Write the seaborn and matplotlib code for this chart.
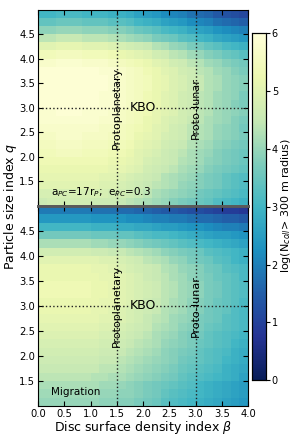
import numpy as np
import pandas as pd
import matplotlib
matplotlib.use("Agg")
import matplotlib.pyplot as plt
import seaborn as sns

# cell centres of the simulation grid (rows listed from the top, q high -> low)
beta_centres = [0.08, 0.25, 0.42, 0.58, 0.75, 0.92, 1.08, 1.25, 1.42, 1.58, 1.75, 1.92,
                2.08, 2.25, 2.42, 2.58, 2.75, 2.92, 3.08, 3.25, 3.42, 3.58, 3.75, 3.92]
q_centres = [4.92, 4.75, 4.58, 4.42, 4.25, 4.08, 3.92, 3.75, 3.58, 3.42, 3.25, 3.08,
             2.92, 2.75, 2.58, 2.42, 2.25, 2.08, 1.92, 1.75, 1.58, 1.42, 1.25, 1.08]

# log(N_coll > 300 m), fixed orbit a_PC=17 r_P, e_PC=0.3
logn_fixed = [
    [3.0, 3.0, 3.1, 3.1, 3.1, 3.0, 3.0, 3.0, 2.9, 2.9, 2.8, 2.6, 2.5, 2.4, 2.2, 2.1, 2.0, 1.8, 1.7, 1.6, 1.4, 1.3, 1.2, 1.1],
    [3.4, 3.4, 3.5, 3.5, 3.5, 3.4, 3.4, 3.4, 3.3, 3.3, 3.2, 3.0, 2.9, 2.8, 2.6, 2.5, 2.4, 2.2, 2.1, 2.0, 1.8, 1.7, 1.6, 1.5],
    [3.9, 3.9, 4.0, 4.0, 4.0, 3.9, 3.9, 3.9, 3.8, 3.8, 3.7, 3.5, 3.4, 3.3, 3.1, 3.0, 2.9, 2.7, 2.6, 2.5, 2.3, 2.2, 2.1, 2.0],
    [4.4, 4.4, 4.5, 4.5, 4.5, 4.4, 4.4, 4.4, 4.3, 4.2, 4.1, 4.0, 3.9, 3.7, 3.6, 3.5, 3.3, 3.2, 3.0, 2.9, 2.7, 2.6, 2.5, 2.4],
    [5.0, 5.0, 5.1, 5.1, 5.1, 5.0, 5.0, 5.0, 4.9, 4.8, 4.7, 4.6, 4.5, 4.3, 4.2, 4.0, 3.9, 3.7, 3.6, 3.4, 3.3, 3.1, 3.0, 2.9],
    [5.4, 5.4, 5.5, 5.5, 5.5, 5.4, 5.4, 5.4, 5.3, 5.2, 5.1, 5.0, 4.9, 4.7, 4.6, 4.4, 4.3, 4.1, 4.0, 3.8, 3.7, 3.5, 3.4, 3.3],
    [5.7, 5.7, 5.8, 5.8, 5.8, 5.7, 5.7, 5.7, 5.6, 5.5, 5.4, 5.3, 5.2, 5.0, 4.9, 4.7, 4.6, 4.4, 4.3, 4.1, 4.0, 3.8, 3.7, 3.6],
    [5.9, 5.9, 5.9, 5.9, 5.9, 5.9, 5.9, 5.8, 5.8, 5.7, 5.6, 5.5, 5.3, 5.2, 5.0, 4.9, 4.7, 4.6, 4.4, 4.3, 4.1, 4.0, 3.8, 3.7],
    [5.9, 5.9, 5.9, 5.9, 5.9, 5.9, 5.9, 5.9, 5.8, 5.7, 5.6, 5.5, 5.4, 5.2, 5.1, 4.9, 4.8, 4.6, 4.5, 4.3, 4.2, 4.0, 3.9, 3.8],
    [5.9, 5.9, 5.9, 5.9, 5.9, 5.9, 5.9, 5.9, 5.8, 5.7, 5.6, 5.5, 5.4, 5.2, 5.1, 4.9, 4.8, 4.6, 4.5, 4.3, 4.2, 4.0, 3.9, 3.8],
    [5.9, 5.9, 5.9, 5.9, 5.9, 5.9, 5.9, 5.8, 5.8, 5.7, 5.6, 5.5, 5.3, 5.2, 5.0, 4.9, 4.7, 4.6, 4.4, 4.3, 4.1, 4.0, 3.9, 3.7],
    [5.9, 5.9, 5.9, 5.9, 5.9, 5.9, 5.9, 5.8, 5.8, 5.7, 5.6, 5.5, 5.3, 5.2, 5.0, 4.9, 4.7, 4.6, 4.4, 4.3, 4.1, 4.0, 3.8, 3.7],
    [5.8, 5.8, 5.9, 5.9, 5.9, 5.8, 5.8, 5.8, 5.7, 5.6, 5.5, 5.4, 5.3, 5.1, 5.0, 4.9, 4.7, 4.6, 4.4, 4.3, 4.1, 4.0, 3.9, 3.8],
    [5.8, 5.8, 5.8, 5.8, 5.8, 5.8, 5.8, 5.7, 5.7, 5.6, 5.5, 5.4, 5.2, 5.1, 4.9, 4.8, 4.7, 4.5, 4.4, 4.2, 4.1, 4.0, 3.8, 3.7],
    [5.7, 5.7, 5.7, 5.7, 5.7, 5.7, 5.7, 5.6, 5.6, 5.5, 5.4, 5.3, 5.2, 5.0, 4.9, 4.7, 4.6, 4.4, 4.3, 4.2, 4.0, 3.9, 3.8, 3.6],
    [5.6, 5.6, 5.7, 5.7, 5.7, 5.6, 5.6, 5.6, 5.5, 5.5, 5.4, 5.2, 5.1, 5.0, 4.8, 4.7, 4.6, 4.4, 4.3, 4.2, 4.0, 3.9, 3.8, 3.7],
    [5.5, 5.5, 5.6, 5.6, 5.6, 5.5, 5.5, 5.5, 5.4, 5.4, 5.3, 5.1, 5.0, 4.9, 4.7, 4.6, 4.5, 4.3, 4.2, 4.1, 3.9, 3.8, 3.7, 3.6],
    [5.4, 5.4, 5.5, 5.5, 5.5, 5.4, 5.4, 5.4, 5.3, 5.3, 5.2, 5.0, 4.9, 4.8, 4.6, 4.5, 4.4, 4.2, 4.1, 4.0, 3.8, 3.7, 3.6, 3.5],
    [5.3, 5.3, 5.3, 5.3, 5.3, 5.3, 5.3, 5.3, 5.2, 5.2, 5.1, 5.0, 4.8, 4.7, 4.6, 4.5, 4.3, 4.2, 4.1, 3.9, 3.8, 3.7, 3.6, 3.5],
    [5.2, 5.2, 5.2, 5.2, 5.2, 5.2, 5.2, 5.2, 5.1, 5.1, 5.0, 4.9, 4.7, 4.6, 4.5, 4.4, 4.2, 4.1, 4.0, 3.8, 3.7, 3.6, 3.5, 3.4],
    [5.1, 5.1, 5.1, 5.1, 5.1, 5.1, 5.1, 5.0, 5.0, 4.9, 4.8, 4.7, 4.6, 4.5, 4.3, 4.2, 4.1, 4.0, 3.8, 3.7, 3.6, 3.4, 3.3, 3.2],
    [5.0, 5.0, 5.0, 5.0, 5.0, 5.0, 5.0, 4.9, 4.9, 4.8, 4.7, 4.6, 4.5, 4.4, 4.3, 4.2, 4.0, 3.9, 3.8, 3.7, 3.6, 3.4, 3.3, 3.2],
    [4.8, 4.8, 4.8, 4.8, 4.8, 4.8, 4.8, 4.8, 4.7, 4.7, 4.6, 4.5, 4.4, 4.2, 4.1, 4.0, 3.9, 3.8, 3.6, 3.5, 3.4, 3.3, 3.2, 3.1],
    [4.6, 4.7, 4.7, 4.7, 4.7, 4.7, 4.6, 4.6, 4.6, 4.5, 4.4, 4.3, 4.2, 4.1, 4.0, 3.8, 3.7, 3.6, 3.5, 3.4, 3.2, 3.1, 3.0, 2.9],
]

# log(N_coll > 300 m), migrating proto-moon
logn_migration = [
    [1.9, 1.9, 1.9, 1.9, 1.9, 1.9, 1.8, 1.8, 1.8, 1.7, 1.7, 1.6, 1.6, 1.5, 1.4, 1.4, 1.3, 1.2, 1.2, 1.1, 1.0, 0.9, 0.9, 0.8],
    [2.4, 2.4, 2.4, 2.4, 2.4, 2.4, 2.3, 2.3, 2.3, 2.3, 2.2, 2.2, 2.1, 2.0, 2.0, 1.9, 1.9, 1.8, 1.7, 1.7, 1.6, 1.5, 1.5, 1.4],
    [3.0, 3.0, 3.0, 3.0, 3.0, 3.0, 2.9, 2.9, 2.9, 2.8, 2.8, 2.7, 2.7, 2.6, 2.5, 2.5, 2.4, 2.3, 2.3, 2.2, 2.1, 2.0, 2.0, 1.9],
    [3.6, 3.6, 3.6, 3.6, 3.6, 3.6, 3.5, 3.5, 3.5, 3.4, 3.4, 3.3, 3.2, 3.1, 3.1, 3.0, 2.9, 2.8, 2.7, 2.6, 2.5, 2.5, 2.4, 2.3],
    [4.2, 4.2, 4.2, 4.2, 4.2, 4.2, 4.1, 4.1, 4.0, 4.0, 3.9, 3.8, 3.7, 3.6, 3.5, 3.4, 3.3, 3.2, 3.1, 3.0, 2.9, 2.8, 2.7, 2.6],
    [4.7, 4.7, 4.7, 4.7, 4.7, 4.7, 4.6, 4.6, 4.5, 4.5, 4.4, 4.3, 4.2, 4.1, 3.9, 3.8, 3.7, 3.6, 3.5, 3.3, 3.2, 3.1, 3.0, 2.9],
    [5.0, 5.0, 5.0, 5.0, 5.0, 5.0, 5.0, 4.9, 4.9, 4.8, 4.7, 4.6, 4.4, 4.3, 4.2, 4.0, 3.9, 3.7, 3.6, 3.5, 3.3, 3.2, 3.0, 2.9],
    [5.2, 5.2, 5.2, 5.2, 5.2, 5.2, 5.1, 5.1, 5.0, 4.9, 4.8, 4.7, 4.6, 4.5, 4.3, 4.2, 4.0, 3.9, 3.8, 3.6, 3.5, 3.3, 3.2, 3.1],
    [5.2, 5.2, 5.2, 5.2, 5.2, 5.2, 5.2, 5.1, 5.1, 5.0, 4.9, 4.8, 4.6, 4.5, 4.4, 4.2, 4.1, 3.9, 3.8, 3.7, 3.5, 3.4, 3.3, 3.1],
    [5.3, 5.3, 5.3, 5.3, 5.3, 5.3, 5.2, 5.2, 5.1, 5.0, 4.9, 4.8, 4.7, 4.6, 4.4, 4.3, 4.1, 4.0, 3.9, 3.7, 3.6, 3.4, 3.3, 3.2],
    [5.3, 5.3, 5.3, 5.3, 5.3, 5.3, 5.2, 5.2, 5.1, 5.0, 4.9, 4.8, 4.7, 4.6, 4.4, 4.3, 4.1, 4.0, 3.9, 3.7, 3.6, 3.4, 3.3, 3.2],
    [5.2, 5.2, 5.2, 5.2, 5.2, 5.2, 5.2, 5.1, 5.1, 5.0, 4.9, 4.8, 4.6, 4.5, 4.4, 4.2, 4.1, 3.9, 3.8, 3.7, 3.5, 3.4, 3.3, 3.1],
    [5.2, 5.2, 5.2, 5.2, 5.2, 5.2, 5.1, 5.1, 5.0, 4.9, 4.8, 4.7, 4.6, 4.5, 4.3, 4.2, 4.1, 3.9, 3.8, 3.6, 3.5, 3.4, 3.2, 3.1],
    [5.1, 5.1, 5.1, 5.1, 5.1, 5.1, 5.1, 5.0, 5.0, 4.9, 4.8, 4.7, 4.5, 4.4, 4.3, 4.1, 4.0, 3.9, 3.7, 3.6, 3.5, 3.3, 3.2, 3.1],
    [5.0, 5.0, 5.0, 5.0, 5.0, 5.0, 5.0, 4.9, 4.9, 4.8, 4.7, 4.6, 4.5, 4.3, 4.2, 4.1, 3.9, 3.8, 3.7, 3.5, 3.4, 3.3, 3.2, 3.1],
    [4.9, 4.9, 4.9, 4.9, 4.9, 4.9, 4.9, 4.8, 4.8, 4.7, 4.6, 4.5, 4.4, 4.2, 4.1, 4.0, 3.8, 3.7, 3.6, 3.4, 3.3, 3.2, 3.1, 3.0],
    [4.8, 4.8, 4.8, 4.8, 4.8, 4.8, 4.8, 4.7, 4.7, 4.6, 4.5, 4.4, 4.3, 4.2, 4.0, 3.9, 3.8, 3.7, 3.5, 3.4, 3.3, 3.2, 3.0, 2.9],
    [4.7, 4.7, 4.7, 4.7, 4.7, 4.7, 4.7, 4.6, 4.6, 4.5, 4.4, 4.3, 4.2, 4.1, 3.9, 3.8, 3.7, 3.6, 3.4, 3.3, 3.2, 3.1, 2.9, 2.8],
    [4.6, 4.6, 4.6, 4.6, 4.6, 4.6, 4.6, 4.5, 4.5, 4.4, 4.3, 4.2, 4.1, 4.0, 3.9, 3.8, 3.6, 3.5, 3.4, 3.3, 3.2, 3.0, 2.9, 2.8],
    [4.5, 4.5, 4.5, 4.5, 4.5, 4.5, 4.5, 4.4, 4.4, 4.3, 4.2, 4.1, 4.0, 3.9, 3.8, 3.7, 3.5, 3.4, 3.3, 3.2, 3.1, 2.9, 2.8, 2.7],
    [4.4, 4.4, 4.4, 4.4, 4.4, 4.4, 4.3, 4.3, 4.2, 4.2, 4.1, 4.0, 3.9, 3.8, 3.7, 3.6, 3.4, 3.3, 3.2, 3.1, 3.0, 2.9, 2.8, 2.6],
    [4.2, 4.2, 4.2, 4.2, 4.2, 4.2, 4.2, 4.1, 4.1, 4.0, 3.9, 3.8, 3.7, 3.6, 3.5, 3.4, 3.3, 3.2, 3.0, 2.9, 2.8, 2.7, 2.6, 2.5],
    [4.1, 4.1, 4.1, 4.1, 4.1, 4.1, 4.1, 4.0, 4.0, 3.9, 3.9, 3.8, 3.7, 3.6, 3.4, 3.3, 3.2, 3.1, 3.0, 2.9, 2.8, 2.7, 2.6, 2.5],
    [4.0, 4.0, 4.0, 4.0, 4.0, 4.0, 4.0, 3.9, 3.9, 3.8, 3.8, 3.7, 3.6, 3.5, 3.3, 3.2, 3.1, 3.0, 2.9, 2.8, 2.7, 2.6, 2.5, 2.4],
]

beta_ticks = [0.0, 0.5, 1.0, 1.5, 2.0, 2.5, 3.0, 3.5, 4.0]
q_ticks = [1.5, 2.0, 2.5, 3.0, 3.5, 4.0, 4.5]
cbar_ticks = [0, 1, 2, 3, 4, 5, 6]

STEP = 6  # grid cells per unit of beta / q


def bx(b):
    # beta value -> heatmap column coordinate
    return b * STEP


def qy(q):
    # q value -> heatmap row coordinate (row 0 is q = 5)
    return (5.0 - q) * STEP


fig = plt.figure(figsize=(2.95, 4.37), dpi=100)
ax_top = fig.add_axes([0.129, 0.529, 0.712, 0.449])
ax_bot = fig.add_axes([0.129, 0.071, 0.712, 0.458])
cax = fig.add_axes([0.855, 0.130, 0.045, 0.794])

panels = [(ax_top, logn_fixed), (ax_bot, logn_migration)]
for i, (ax, grid) in enumerate(panels):
    df = pd.DataFrame(grid, index=q_centres, columns=beta_centres)
    sns.heatmap(df, ax=ax, cmap="YlGnBu_r", vmin=0, vmax=6,
                cbar=(i == 0), cbar_ax=cax if i == 0 else None,
                xticklabels=False, yticklabels=False)

    for sp in ax.spines.values():
        sp.set_visible(True)
        sp.set_linewidth(0.8)
        sp.set_color("black")

    ax.set_xticks([bx(b) for b in beta_ticks])
    ax.set_yticks([qy(q) for q in q_ticks])
    ax.set_yticklabels([f"{q:.1f}" for q in q_ticks])
    if i == 1:
        ax.set_xticklabels([f"{b:.1f}" for b in beta_ticks])
    else:
        ax.set_xticklabels([])
    ax.tick_params(direction="in", top=True, right=True, length=3.5, width=0.8,
                   labelsize=7.2, pad=2)
    ax.set_xlabel("")
    ax.set_ylabel("")

    # reference discs and KBO slope
    for b in (1.5, 3.0):
        ax.axvline(bx(b), color="#222222", ls=":", lw=1.0)
    ax.hlines(qy(3.0), bx(0.0), bx(1.76), color="#222222", ls=":", lw=1.0)
    ax.hlines(qy(3.0), bx(2.24), bx(4.0), color="#222222", ls=":", lw=1.0)
    ax.text(bx(2.0), qy(3.0), "KBO", ha="center", va="center", fontsize=9)
    ax.text(bx(1.5), qy(3.0), "Protoplanetary", rotation=90, ha="center",
            va="center", fontsize=8)
    ax.text(bx(3.0), qy(3.0), "Proto-lunar", rotation=90, ha="center",
            va="center", fontsize=8)

# grey seam between the panels
ax_top.spines["bottom"].set_color("#5a5a5a")
ax_top.spines["bottom"].set_linewidth(2)
ax_bot.spines["top"].set_color("#5a5a5a")
ax_bot.spines["top"].set_linewidth(2)

ax_top.text(bx(0.25), qy(1.27), r"a$_{PC}$=17r$_{P}$;  e$_{PC}$=0.3",
            ha="left", va="center", fontsize=7.5)
ax_bot.text(bx(0.25), qy(1.28), "Migration", ha="left", va="center", fontsize=7.5)

cax.set_yticks(cbar_ticks)
cax.tick_params(labelsize=7, length=3, width=0.8, pad=1.5)
for sp in cax.spines.values():
    sp.set_visible(True)
    sp.set_linewidth(0.8)

fig.text(0.968, 0.53, r"log(N$_{coll}$> 300 m radius)", rotation=90,
         ha="center", va="center", fontsize=8)
fig.text(0.034, 0.527, "Particle size index $q$", rotation=90,
         ha="center", va="center", fontsize=9)
fig.text(0.485, 0.022, r"Disc surface density index $\beta$",
         ha="center", va="center", fontsize=9)

fig.savefig("out.png", dpi=100)
